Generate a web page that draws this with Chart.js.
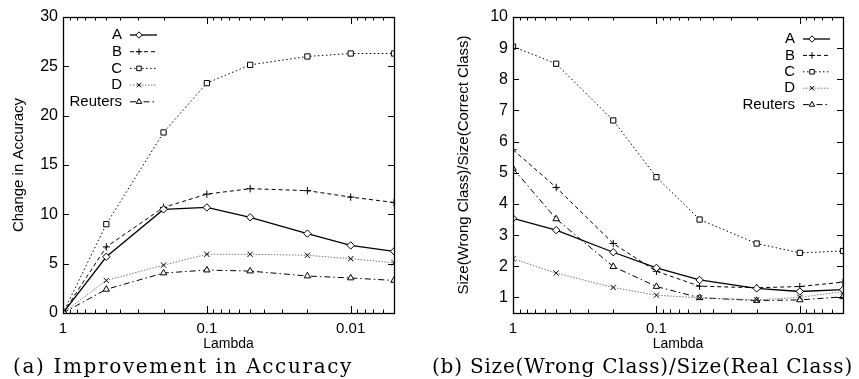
<!DOCTYPE html>
<html lang="en">
<head>
<meta charset="UTF-8">
<title>Lambda</title>
<script src="https://cdn.jsdelivr.net/npm/chart.js"></script>
<style>
    body { margin: 0; background: #fff; width: 859px; height: 379px; position: relative; overflow: hidden; }
    canvas { position: absolute; top: 0; }
    .legenda { position: absolute; top: 354px; font-family: "DejaVu Serif", serif; font-size: 20px; color: #000; white-space: nowrap; }
</style>
</head>
<body>
<canvas id="graficoA" width="430" height="355" style="left:0"></canvas>
<canvas id="graficoB" width="429" height="355" style="left:430px"></canvas>
<div class="legenda" id="legA">(a) Improvement in Accuracy</div>
<div class="legenda" id="legB">(b) Size(Wrong Class)/Size(Real Class)</div>
<script>
    // valores de lambda (eixo x, log invertido)
    const lambdas = [1, 0.5, 0.2, 0.1, 0.05, 0.02, 0.01, 0.005];
    const nomes = ['A', 'B', 'C', 'D', 'Reuters'];

    // (a) change in accuracy
    const accA = [0, 5.7, 10.5, 10.7, 9.7, 8.05, 6.85, 6.25];
    const accB = [0, 6.7, 10.7, 12.05, 12.6, 12.4, 11.75, 11.2];
    const accC = [0, 9.0, 18.3, 23.3, 25.15, 26.0, 26.3, 26.3];
    const accD = [0, 3.3, 4.85, 5.95, 5.95, 5.85, 5.5, 5.1];
    const accR = [0, 2.4, 4.05, 4.35, 4.25, 3.75, 3.55, 3.3];

    // (b) size(wrong)/size(correct)
    const sizeA = [3.54, 3.16, 2.45, 1.95, 1.56, 1.29, 1.19, 1.25];
    const sizeB = [5.74, 4.53, 2.73, 1.84, 1.36, 1.31, 1.35, 1.49];
    const sizeC = [9.05, 8.5, 6.68, 4.86, 3.5, 2.73, 2.43, 2.49];
    const sizeD = [2.24, 1.78, 1.32, 1.07, 0.99, 0.92, 1.0, 1.19];
    const sizeR = [5.14, 3.52, 1.99, 1.35, 0.99, 0.9, 0.92, 1.02];

    const yTicksA = [0, 5, 10, 15, 20, 25, 30];
    const yTicksB = [1, 2, 3, 4, 5, 6, 7, 8, 9, 10];
    const xLabels = [1, 0.1, 0.01];

    // ticks menores do eixo log (2..9 x 10^n)
    const xTicks = [];
    [0.001, 0.01, 0.1].forEach(d => {
        for (let k = 1; k <= 9; k++) {
            const v = +(k * d).toPrecision(6);
            if (v >= 0.005) xTicks.push(v);
        }
    });
    xTicks.push(1);

    const estilos = [
        { cor: '#000', dash: [], ponto: 'rectRot', larg: 1.3 },
        { cor: '#000', dash: [4, 3], ponto: 'cross', larg: 1 },
        { cor: '#000', dash: [1.5, 2.5], ponto: 'rect', larg: 1 },
        { cor: '#777', dash: [1.5, 1.5], ponto: 'crossRot', larg: 1 },
        { cor: '#000', dash: [6, 3, 1.5, 3], ponto: 'triangle', larg: 1 }
    ];

    function ehPotencia(v) {
        const l = Math.log10(v);
        return Math.abs(l - Math.round(l)) < 1e-6;
    }

    function moldura(leg) {
        return {
            id: 'moldura',
            afterDraw(chart) {
                const ctx = chart.ctx;
                const a = chart.chartArea;
                const x = chart.scales.x, y = chart.scales.y;
                ctx.save();
                ctx.strokeStyle = '#000';
                ctx.lineWidth = 1;
                ctx.setLineDash([]);
                ctx.beginPath();
                x.ticks.forEach(t => {
                    const px = Math.round(x.getPixelForValue(t.value)) + 0.5;
                    const len = ehPotencia(t.value) ? 7 : 3.5;
                    ctx.moveTo(px, a.bottom); ctx.lineTo(px, a.bottom - len);
                    ctx.moveTo(px, a.top); ctx.lineTo(px, a.top + len);
                });
                y.ticks.forEach(t => {
                    const py = Math.round(y.getPixelForValue(t.value)) + 0.5;
                    ctx.moveTo(a.left, py); ctx.lineTo(a.left + 6, py);
                    ctx.moveTo(a.right, py); ctx.lineTo(a.right - 6, py);
                });
                ctx.stroke();
                ctx.lineWidth = 1.3;
                ctx.strokeRect(Math.round(a.left) + 0.5, Math.round(a.top) + 0.5, Math.round(a.width), Math.round(a.height));

                // legenda
                ctx.font = '15px "Liberation Sans", Arial, sans-serif';
                ctx.textAlign = 'right';
                ctx.textBaseline = 'middle';
                chart.data.datasets.forEach((ds, i) => {
                    const ly = leg.y + i * leg.dy;
                    ctx.fillStyle = '#000';
                    ctx.fillText(ds.label, leg.x, ly);
                    ctx.strokeStyle = ds.borderColor;
                    ctx.lineWidth = ds.borderWidth;
                    ctx.setLineDash(ds.borderDash);
                    ctx.beginPath();
                    ctx.moveTo(leg.x + 8, ly); ctx.lineTo(leg.x + 35, ly);
                    ctx.stroke();
                    ctx.setLineDash([]);
                    ctx.lineWidth = 1;
                    ctx.strokeStyle = '#000';
                    ctx.fillStyle = '#fff';
                    Chart.helpers.drawPoint(ctx, { pointStyle: ds.pointStyle, radius: 3.2, rotation: 0, borderWidth: 1 }, leg.x + 17, ly);
                });
                ctx.restore();
            }
        };
    }

    function criarGrafico(id, series, yMin, yMax, yTicks, yTitulo, tituloPad, eixoLarg, padDir, leg) {
        return new Chart(document.getElementById(id).getContext('2d'), {
            type: 'line',
            data: {
                datasets: series.map((s, i) => ({
                    label: nomes[i],
                    data: lambdas.map((l, j) => ({ x: l, y: s[j] })),
                    borderColor: estilos[i].cor,
                    borderWidth: estilos[i].larg,
                    borderDash: estilos[i].dash,
                    pointStyle: estilos[i].ponto,
                    pointRadius: 3.7,
                    pointBorderColor: '#000',
                    pointBackgroundColor: '#fff',
                    pointBorderWidth: 1,
                    tension: 0
                }))
            },
            options: {
                responsive: false,
                animation: false,
                events: [],
                layout: { padding: { top: 17, right: padDir, left: 0, bottom: 0 } },
                plugins: { legend: { display: false }, tooltip: { enabled: false } },
                scales: {
                    x: {
                        type: 'logarithmic',
                        reverse: true,
                        min: 0.005,
                        max: 1,
                        afterBuildTicks: s => { s.ticks = xTicks.map(v => ({ value: v })); },
                        afterFit: s => { s.height = 42; },
                        grid: { display: false, drawTicks: false },
                        border: { display: false },
                        ticks: {
                            autoSkip: false,
                            maxRotation: 0,
                            padding: 7,
                            color: '#000',
                            font: { family: '"Liberation Sans", Arial, sans-serif', size: 15 },
                            callback: v => (xLabels.some(l => Math.abs(l - v) < 1e-9) ? String(v) : '')
                        },
                        title: {
                            display: true,
                            text: 'Lambda',
                            color: '#000',
                            padding: { top: 0, bottom: 2 },
                            font: { family: '"Liberation Sans", Arial, sans-serif', size: 14 }
                        }
                    },
                    y: {
                        min: yMin,
                        max: yMax,
                        afterBuildTicks: s => { s.ticks = yTicks.map(v => ({ value: v })); },
                        afterFit: s => { s.width = eixoLarg; },
                        grid: { display: false, drawTicks: false },
                        border: { display: false },
                        ticks: {
                            padding: 5,
                            color: '#000',
                            font: { family: '"Liberation Sans", Arial, sans-serif', size: 16 }
                        },
                        title: {
                            display: true,
                            text: yTitulo,
                            color: '#000',
                            padding: { top: tituloPad, bottom: 0 },
                            font: { family: '"Liberation Sans", Arial, sans-serif', size: 15 }
                        }
                    }
                }
            },
            plugins: [moldura(leg)]
        });
    }

    criarGrafico('graficoA', [accA, accB, accC, accD, accR], 0, 30, yTicksA,
        'Change in Accuracy', 10, 63, 36, { x: 122, y: 35, dy: 16.7 });
    criarGrafico('graficoB', [sizeA, sizeB, sizeC, sizeD, sizeR], 0.5, 10, yTicksB,
        'Size(Wrong Class)/Size(Correct Class)', 25, 83, 16, { x: 365, y: 39, dy: 16.4 });

    // ajusta as legendas das figuras à largura do original
    function ajustar(id, esq, larg) {
        const el = document.getElementById(id);
        const w = el.getBoundingClientRect().width;
        const n = el.textContent.length;
        el.style.letterSpacing = ((larg - w) / n) + 'px';
        el.style.left = esq + 'px';
    }
    ajustar('legA', 13, 340);
    ajustar('legB', 432, 421);
</script>
</body>
</html>
